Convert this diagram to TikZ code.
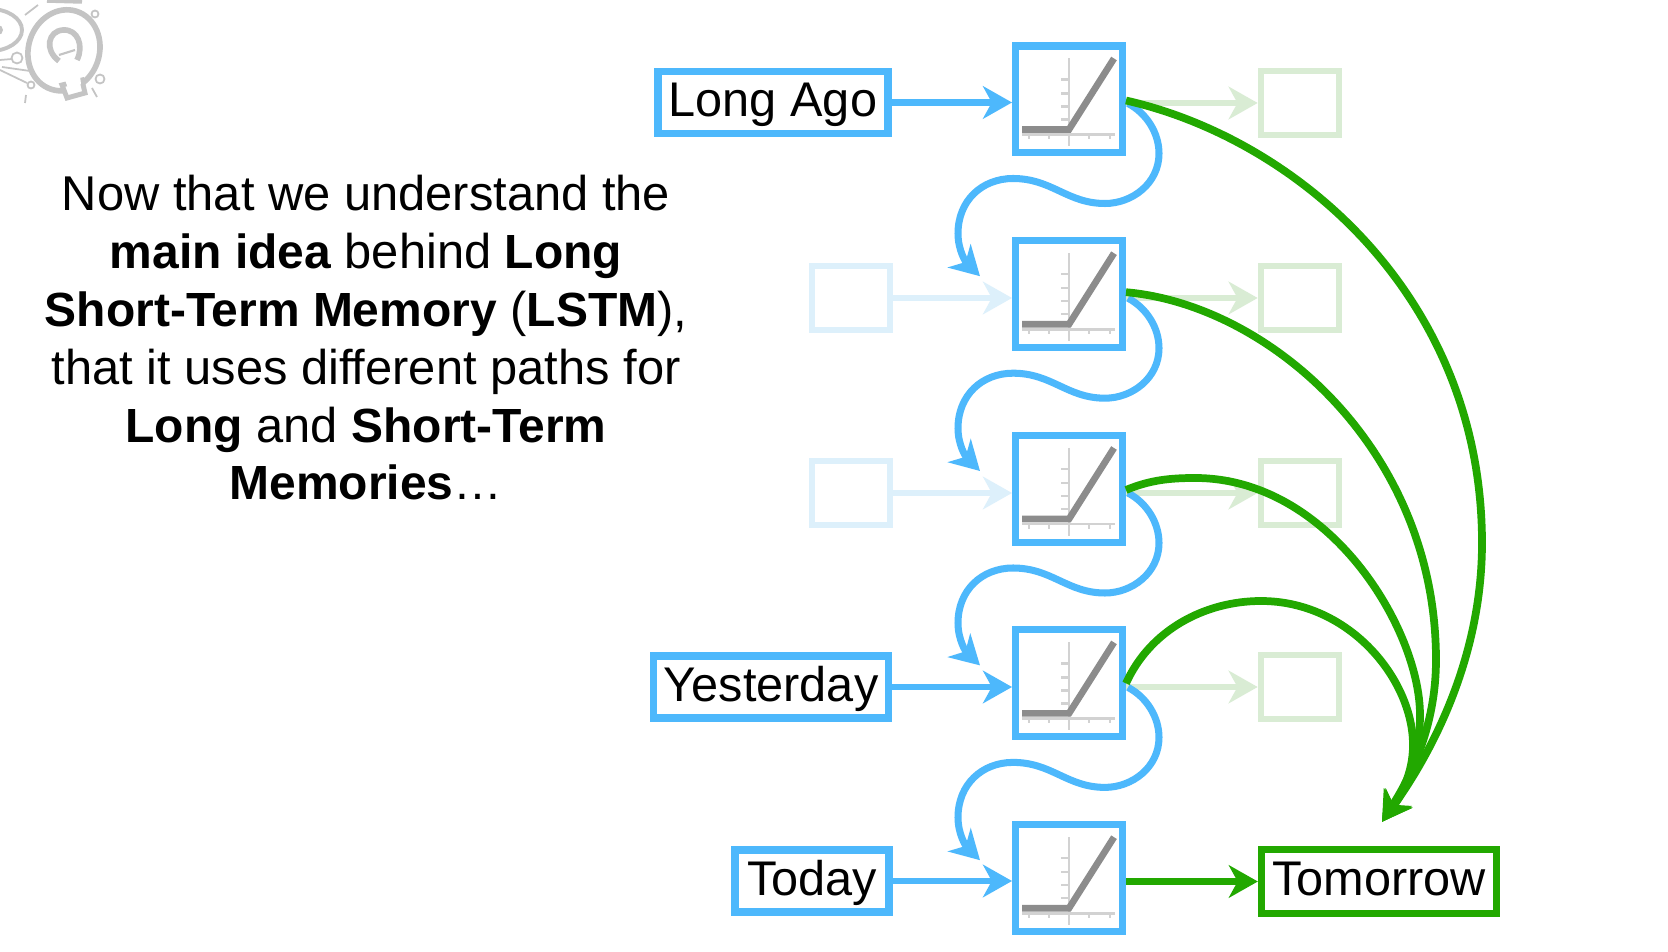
\documentclass[tikz,border=0pt]{standalone}
\usepackage{fontspec}
\setmainfont{Liberation Sans}
\usetikzlibrary{arrows.meta,calc}
\definecolor{lblue}{HTML}{4DB8FC}
\definecolor{lgreen}{HTML}{22A800}
\definecolor{fblue}{HTML}{DDF0FB}
\definecolor{fgreen}{HTML}{D9ECD4}
\definecolor{ramp}{HTML}{8C8C8C}
\definecolor{axisg}{HTML}{D2D2D2}
\definecolor{logog}{HTML}{C4C4C4}
\newcommand{\bt}[1]{{\fontsize{27.3}{32.9}\selectfont\bfseries #1}}
\tikzset{
  x=0.02cm,y=-0.02cm,
  neuron/.style={draw=lblue,line width=4pt,fill=white,minimum width=2.14cm,minimum height=2.14cm,inner sep=0pt},
  inbox/.style={draw=lblue,line width=4.2pt,fill=white,minimum height=1.24cm,inner sep=0pt,text height=20pt,text depth=4pt,font=\fontsize{27.7}{30}\selectfont},
  outbox/.style={draw=lgreen,line width=4.2pt,fill=white,minimum width=4.7cm,minimum height=1.28cm,inner sep=0pt,text height=20pt,text depth=4pt,font=\fontsize{27.7}{30}\selectfont},
  fadegreen/.style={draw=fgreen,line width=3.8pt,minimum width=1.56cm,minimum height=1.28cm,inner sep=0pt},
  fadeblue/.style={draw=fblue,line width=3.8pt,minimum width=1.56cm,minimum height=1.28cm,inner sep=0pt},
  tip/.style={-{Stealth[length=16.5pt,width=18.5pt,inset=5pt]}},
  inarrow/.style={tip,draw=lblue,line width=3.8pt},
  fadearrowb/.style={tip,draw=fblue,line width=3.8pt},
  fadearrowg/.style={tip,draw=fgreen,line width=3.8pt},
  outarrow/.style={tip,draw=lgreen,line width=4.4pt},
  memory/.style={tip,draw=lblue,line width=4pt},
  logol/.style={draw=logog,line width=1pt},
  maintext/.style={align=center,inner sep=0pt,font=\fontsize{27.8}{32.9}\selectfont},
}
\newcommand{\rampplot}[2]{%
  \begin{scope}[shift={(#1,#2)}]
    \draw[axisg,line width=1.5pt] (0,-41) -- (0,47);
    \draw[axisg,line width=1.5pt] (-47,35) -- (46,35);
    \foreach \t in {-20,-6,7,20} \draw[axisg,line width=1.3pt] (0,\t) -- (-8,\t);
    \foreach \t in {-40,-20,20,41} \draw[axisg,line width=1.3pt] (\t,35) -- (\t,40);
    \draw[ramp,line width=3.8pt] (-47,30) -- (0,30) -- (45,-41);
  \end{scope}}
\begin{document}
\begin{tikzpicture}
\useasboundingbox (0,0) rectangle (1668,952);
\clip (0,0) rectangle (1668,952);
\fill[white] (0,0) rectangle (1668,952);

% logo watermark
\draw[logog,line width=3.2pt,rotate around={-18:(63,50)}] (64,50) ellipse (35.5 and 41);
\fill[white,draw=logog,line width=2.8pt] (62,85) -- (67,98) -- (85,93) -- (82,80) -- cycle;
\fill[white] (65,80) -- (80,76) -- (81,84) -- (68,88) -- cycle;
\draw[logog,line width=3.2pt] (59,61) .. controls (44,50) and (48,31) .. (63,30) .. controls (78,29) and (84,46) .. (77,60);
\draw[logog,line width=1.2pt] (59,55) -- (75,50);
\draw[logog,line width=2.2pt] (-10,30) ellipse (32 and 21);
\fill[logog] (-2,30) circle (5);
\foreach \cx/\cy/\r in {95/14/3.5, 17/58/5.5, 100/79/4.5, 31/85/3.5} \draw[logol] (\cx,\cy) circle (\r);
\draw[logol] (0,60) -- (12,59);
\draw[logol] (2,67) -- (30,71);
\draw[logol] (0,70) -- (27,83);
\draw[logol] (25,103) -- (26,95);
\draw[logol] (92,88) -- (97,97);
\draw[logol] (25,15) -- (38,5);
\draw[logog,line width=2pt] (47,1) -- (82,2);

% main text
\node[maintext] (caption) at (366,338) {Now that we understand the\\
\bt{main idea} behind \bt{Long}\\
\bt{Short-Term Memory} (\bt{LSTM}),\\
that it uses different paths for\\
\bt{Long} and \bt{Short-Term}\\
\bt{Memories}…};

% faded boxes
\node[fadeblue] (l2) at (851,298) {};
\node[fadeblue] (l3) at (851,493) {};
\foreach \n/\yy in {1/103,2/298,3/493,4/687}
  \node[fadegreen] (r\n) at (1300,\yy) {};

% neurons
\node[neuron] (n1) at (1069,99.5) {};
\node[neuron] (n2) at (1069,294.2) {};
\node[neuron] (n3) at (1069,489) {};
\node[neuron] (n4) at (1069,683.4) {};
\node[neuron] (n5) at (1069,878.2) {};
\rampplot{1069}{99.5}
\rampplot{1069}{294.2}
\rampplot{1069}{489}
\rampplot{1069}{683.4}
\rampplot{1069}{878.2}

% inputs and output
\node[inbox,minimum width=4.6cm] (longago) at (773,102.5) {Long Ago};
\node[inbox,minimum width=4.7cm] (yesterday) at (771,687) {Yesterday};
\node[inbox,minimum width=3.08cm] (today) at (812,881) {Today};
\node[outbox] (tomorrow) at (1379,881.5) {Tomorrow};

% faded arrows
\foreach \n in {2,3} \draw[fadearrowb] (l\n.east) -- (l\n.east -| n\n.west);
\foreach \n in {1,2,3,4} \draw[fadearrowg] (r\n.west -| n\n.east) -- (r\n.west);

% input arrows
\draw[inarrow] (longago.east) -- (longago.east -| n1.west);
\draw[inarrow] (yesterday.east) -- (yesterday.east -| n4.west);
\draw[inarrow] (today.east) -- (today.east -| n5.west);

% memory S curves
\foreach \a/\b in {1/2,2/3,3/4,4/5} {
  \coordinate (s) at (n\a.east);
  \draw[memory] ($(s)+(2,4)$)
    .. controls ($(s)+(21,14)$) and ($(s)+(33,34)$) .. ($(s)+(33,54)$)
    .. controls ($(s)+(33,84)$) and ($(s)+(6,104)$) .. ($(s)+(-21,104)$)
    .. controls ($(s)+(-59,104)$) and ($(s)+(-74,79)$) .. ($(s)+(-113,79)$)
    .. controls ($(s)+(-144,79)$) and ($(s)+(-168,101)$) .. ($(s)+(-168,134)$)
    .. controls ($(s)+(-168,151)$) and ($(s)+(-160,163)$) .. ($(n\b.west)+(-32,-18)$);
}

% green curves
\coordinate (gtip) at ($(tomorrow.north)+(3,-24)$);
\draw[outarrow] ($(n1.east)+(0,1)$) .. controls (1300,140) and (1482,300) .. (1482,543)
   .. controls (1482,660) and (1430,755) .. (gtip);
\draw[outarrow] ($(n2.east)+(0,-2)$) .. controls (1270,305) and (1436,450) .. (1436,660)
   .. controls (1436,720) and (1415,770) .. (gtip);
\draw[outarrow] ($(n3.east)+(0,1)$) .. controls (1150,480) and (1170,478) .. (1195,478)
   .. controls (1330,478) and (1420,630) .. (1420,715)
   .. controls (1420,760) and (1405,790) .. (gtip);
\draw[outarrow] (n4.east) .. controls (1150,630) and (1205,601) .. (1261,601)
   .. controls (1350,601) and (1413,680) .. (1413,745)
   .. controls (1413,775) and (1400,795) .. (gtip);
\draw[outarrow] (tomorrow.west -| n5.east) -- (tomorrow.west);
\end{tikzpicture}
\end{document}
